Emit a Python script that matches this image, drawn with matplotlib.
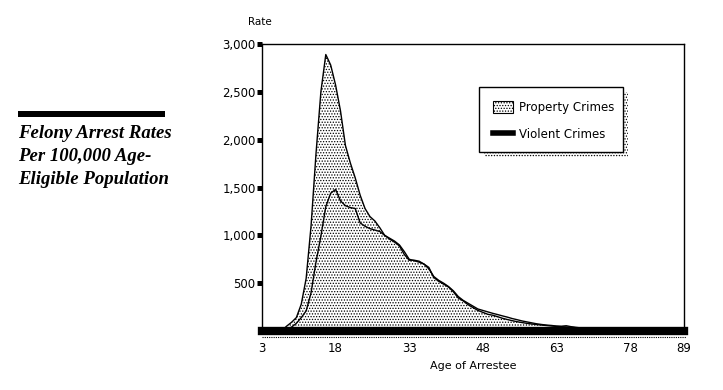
import matplotlib
matplotlib.use("Agg")
import matplotlib.pyplot as plt
from matplotlib.patches import Rectangle, Patch
from matplotlib.lines import Line2D
import numpy as np

# ages 3..89
ages = list(range(3, 90))

property_crimes = [
    0, 0, 0, 0, 0, 50, 90, 140, 280, 550,            # 3-12
    1100, 1850, 2500, 2890, 2780, 2570, 2300, 1940,  # 13-20
    1757, 1600, 1420, 1280, 1196, 1150, 1080, 1000,  # 21-28
    960, 930, 890, 800, 740, 740, 730, 700, 665,     # 29-37
    560, 520, 490, 460, 410, 345, 315, 275, 245,     # 38-46
    215, 195, 175, 165, 150, 133, 120, 108, 97,      # 47-55
    88, 80, 73, 67, 62, 57, 52, 48, 45, 42,          # 56-65
    38, 34, 30, 27, 24, 21, 19, 17, 15, 13,          # 66-75
    11, 10, 9, 8, 7, 6, 5, 4, 4, 3, 3, 2, 2, 2,      # 76-89
]

violent_crimes = [
    0, 0, 0, 0, 0, 15, 40, 80, 140, 210,             # 3-12
    400, 720, 990, 1300, 1440, 1480, 1360, 1310,     # 13-20
    1290, 1280, 1130, 1095, 1070, 1055, 1040, 1000,  # 21-28
    970, 940, 900, 830, 750, 735, 720, 700, 650,     # 29-37
    570, 530, 500, 465, 420, 360, 320, 290, 260,     # 38-46
    230, 215, 200, 185, 172, 158, 145, 130, 118,     # 47-55
    105, 95, 85, 75, 68, 62, 58, 52, 50, 55,         # 56-65
    45, 38, 32, 28, 24, 21, 19, 17, 15, 13,          # 66-75
    11, 10, 9, 8, 7, 6, 5, 4, 4, 3, 3, 2, 2, 2,      # 76-89
]

x_ticks = [3, 18, 33, 48, 63, 78, 89]
y_ticks = [500, 1000, 1500, 2000, 2500, 3000]
y_labels = ["500", "1,000", "1,500", "2,000", "2,500", "3,000"]

title_lines = "Felony Arrest Rates\nPer 100,000 Age-\nEligible Population"

plt.rcParams["hatch.linewidth"] = 0.6
W, H = 723, 390
fig = plt.figure(figsize=(W / 100, H / 100), dpi=100)
fig.patch.set_facecolor("white")

ax = fig.add_axes([262 / W, 1 - 331 / H, 422 / W, 287 / H])
ax.set_xlim(3, 89)
ax.set_ylim(0, 3000)

ax.fill_between(ages, property_crimes, 0, facecolor="white", edgecolor="black",
                hatch="......", linewidth=0, zorder=1)
ax.plot(ages, property_crimes, color="black", lw=1.0, zorder=2)
ax.plot(ages, violent_crimes, color="black", lw=1.0, zorder=2)

for s in ["left", "top", "right"]:
    ax.spines[s].set_linewidth(1.0)
ax.spines["bottom"].set_linewidth(6)
ax.spines["bottom"].set_capstyle("projecting")
ax.spines["bottom"].set_zorder(5)

ax.set_xticks(x_ticks)
ax.set_xticklabels([str(t) for t in x_ticks])
ax.set_yticks(y_ticks)
ax.set_yticklabels(y_labels)
ax.tick_params(axis="x", length=0, pad=8, labelsize=8.5)
ax.tick_params(axis="y", direction="out", length=3.6, width=3.6, pad=1, labelsize=8.5)

# dotted shadow line under the baseline
ax.add_line(Line2D([0, 1.005], [-0.022, -0.022], transform=ax.transAxes,
                   color="black", lw=0.8, ls=(0, (1, 1)), clip_on=False))

ax.text(-0.005, 1.075, "Rate", transform=ax.transAxes, ha="center", va="center",
        fontsize=7.5)
ax.set_xlabel("Age of Arrestee", fontsize=8, labelpad=4)

# legend box with dotted shadow
lx0, lx1 = (479 - 262) / 422, (623 - 262) / 422
ly0, ly1 = (331 - 152) / 287, (331 - 87) / 287
ax.add_patch(Rectangle((lx0 + 0.012, ly0 - 0.018), lx1 - lx0, ly1 - ly0,
                       transform=ax.transAxes, facecolor="white", edgecolor="black",
                       lw=0, hatch="......", zorder=6))
ax.add_patch(Rectangle((lx0, ly0), lx1 - lx0, ly1 - ly0, transform=ax.transAxes,
                       facecolor="white", edgecolor="black", lw=1.0, zorder=7))
handles = [
    Patch(facecolor="white", edgecolor="black", hatch="......", lw=0.8),
    Line2D([], [], color="black", lw=4),
]
leg = ax.legend(handles, ["Property Crimes", "Violent Crimes"],
                loc="upper left", bbox_to_anchor=(lx0 + 0.022, ly1 - 0.032),
                frameon=False, fontsize=8.5, handlelength=1.7, handleheight=1.2,
                handletextpad=0.5, labelspacing=1.15, borderaxespad=0)
leg.set_zorder(8)

# left title block
fig.add_artist(Rectangle((18 / W, 1 - 117 / H), 147 / W, 6 / H,
                         transform=fig.transFigure, facecolor="black", edgecolor="none"))
fig.text(18 / W, 1 - 125 / H, title_lines, ha="left", va="top",
         family="Liberation Serif", weight="bold", style="italic",
         fontsize=13.5, linespacing=1.45)

fig.savefig("out.png", dpi=100)
